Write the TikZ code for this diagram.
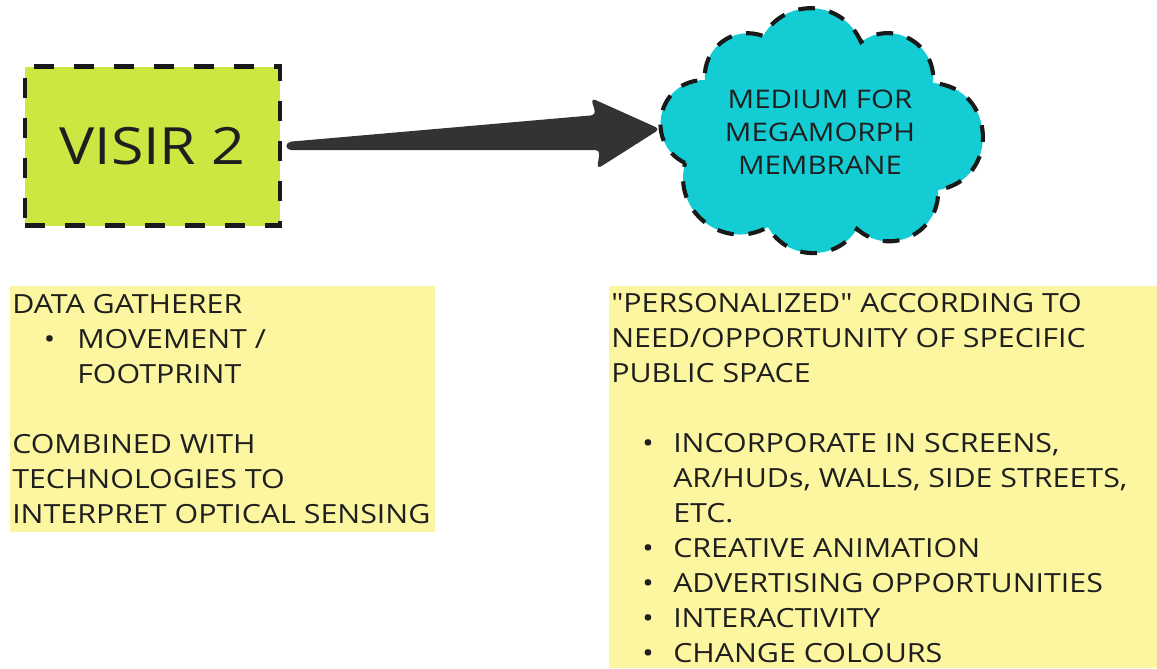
\documentclass[tikz,border=0pt]{standalone}
\usepackage{fontspec}
\setmainfont{Open Sans}[FakeStretch=1.15, Ligatures=TeXOff]
\usetikzlibrary{calc}
\definecolor{limegreen}{HTML}{CDE642}
\definecolor{cloudcyan}{HTML}{14CDD4}
\definecolor{stickyyellow}{HTML}{FDF6A0}
\definecolor{ink}{HTML}{1F1F1F}
\definecolor{arrowgray}{HTML}{333333}
\newcommand{\stickyfont}{\fontsize{19.8}{26.25}\selectfont}
\begin{document}
\begin{tikzpicture}[x=0.75pt,y=0.75pt,
  greenbox/.style={draw=black!90, line width=3.4pt, dash pattern=on 15pt off 15pt,
    fill=limegreen, minimum width=191.25pt, minimum height=119.25pt, inner sep=0pt,
    font=\fontsize{38.5}{46}\selectfont, text=ink},
  cloudline/.style={draw=black!90, fill=cloudcyan, line width=3.1pt,
    dash pattern=on 12.5pt off 11pt},
  stickybox/.style={fill=stickyyellow, draw=none, inner sep=0pt, anchor=north west},
  txt/.style={anchor=base west, inner sep=0pt, font=\stickyfont, text=ink},
  bul/.style={anchor=base, inner sep=0pt, font=\stickyfont, text=ink},
]
\useasboundingbox (0,0) rectangle (1157,-668);
\fill[white] (0,0) rectangle (1157,-668);

% sticky notes
\node[stickybox, minimum width=318.75pt, minimum height=184.5pt] (leftnote) at (10,-286) {};
\node[stickybox, minimum width=411pt, minimum height=286.5pt] (rightnote) at (609,-286) {};

% green box
\node[greenbox] (visir) at (152.5,-146) {VISIR 2};

% cloud
\coordinate (A) at (705,-80);
\coordinate (B) at (763,-36);
\coordinate (C) at (861,-42);
\coordinate (D) at (933,-83);
\coordinate (E) at (938,-190);
\coordinate (F) at (857,-229);
\coordinate (G) at (768,-227);
\coordinate (H) at (685,-163);
\path[cloudline] (H) to[bend left=77, looseness=1.40] (A)
  to[bend left=58, looseness=1.11] (B)
  to[bend left=63, looseness=1.20] (C)
  to[bend left=66, looseness=1.21] (D)
  to[bend left=83, looseness=1.52] (E)
  to[bend left=67, looseness=1.23] (F)
  to[bend left=59, looseness=1.12] (G)
  to[bend left=67, looseness=1.23] (H) -- cycle;
\node[align=center, inner sep=0pt, text=ink, font=\fontsize{19.2}{24.75}\selectfont]
  (medium) at (820,-132.5) {MEDIUM FOR\\MEGAMORPH\\MEMBRANE};
\coordinate (tipc) at (660,-129);

% arrow
\fill[arrowgray, rounded corners=3.5pt]
  ($(visir.east)+(4,4)$) -- ($(tipc)+(-64,14)$) -- ($(tipc)+(-69,31)$) --
  (tipc) -- ($(tipc)+(-63,-40)$) -- ($(tipc)+(-60,-21)$) --
  ($(visir.east)+(4,-4)$) -- cycle;

% left note text
\node[txt] (l1) at (12,-313) {DATA GATHERER};
\node[bul] (lb1) at (49.5,-348) {•};
\node[txt] (l2) at (77,-348) {MOVEMENT /};
\node[txt] (l3) at (77,-383) {FOOTPRINT};
\node[txt] (l4) at (12,-453) {COMBINED WITH};
\node[txt] (l5) at (12,-488) {TECHNOLOGIES TO};
\node[txt] (l6) at (12,-523) {INTERPRET OPTICAL SENSING};

% right note text
\node[txt] (r1) at (611,-312) {"PERSONALIZED" ACCORDING TO};
\node[txt] (r2) at (611,-347) {NEED/OPPORTUNITY OF SPECIFIC};
\node[txt] (r3) at (611,-382) {PUBLIC SPACE};
\node[bul] (rb1) at (648,-452) {•};
\node[txt] (r4) at (673,-452) {INCORPORATE IN SCREENS,};
\node[txt] (r5) at (673,-487) {AR/HUDs, WALLS, SIDE STREETS,};
\node[txt] (r6) at (673,-522) {ETC.};
\node[bul] (rb2) at (648,-557) {•};
\node[txt] (r7) at (673,-557) {CREATIVE ANIMATION};
\node[bul] (rb3) at (648,-592) {•};
\node[txt] (r8) at (673,-592) {ADVERTISING OPPORTUNITIES};
\node[bul] (rb4) at (648,-627) {•};
\node[txt] (r9) at (673,-627) {INTERACTIVITY};
\node[bul] (rb5) at (648,-662) {•};
\node[txt] (r10) at (673,-662) {CHANGE COLOURS};
\end{tikzpicture}
\end{document}
